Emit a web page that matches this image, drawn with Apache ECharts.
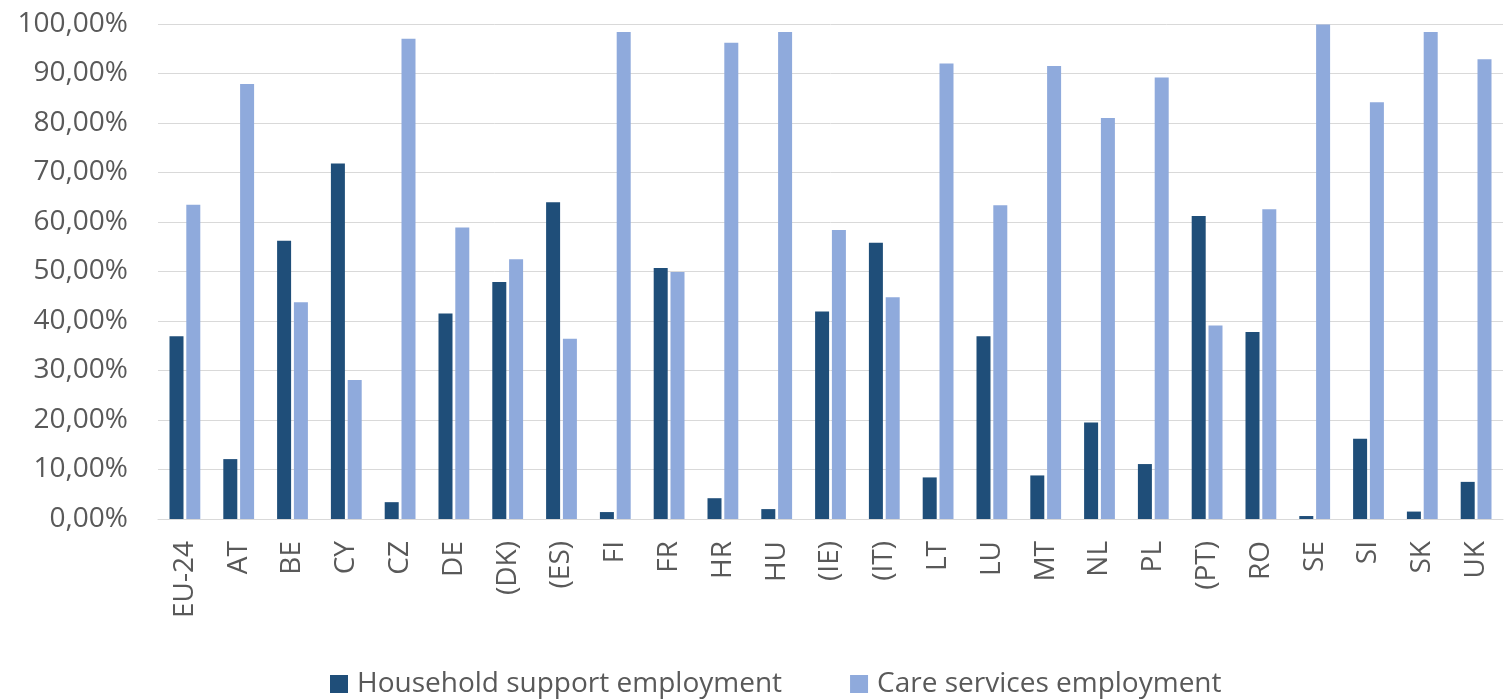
<!DOCTYPE html>
<html>
<head>
<meta charset="utf-8">
<script src="https://cdn.jsdelivr.net/npm/echarts@6/dist/echarts.min.js"></script>
<style>html,body{margin:0;padding:0;background:#fff}#c{width:1504px;height:699px}</style>
</head>
<body>
<div id="c"></div>
<script>
const categories = ['EU-24','AT','BE','CY','CZ','DE','(DK)','(ES)','FI','FR','HR','HU','(IE)','(IT)','LT','LU','MT','NL','PL','(PT)','RO','SE','SI','SK','UK'];
const householdSupport = [36.9,12.1,56.2,71.8,3.4,41.5,47.9,64.0,1.4,50.7,4.2,2.0,41.9,55.8,8.4,36.9,8.8,19.5,11.1,61.2,37.8,0.6,16.2,1.5,7.5];
const careServices = [63.5,87.9,43.8,28.1,97.0,58.9,52.5,36.4,98.4,49.9,96.2,98.4,58.4,44.8,92.0,63.4,91.5,81.0,89.2,39.1,62.6,99.9,84.2,98.4,92.9];
const seriesNames = ['Household support employment','Care services employment'];

const font = '"Open Sans", sans-serif';
const chart = echarts.init(document.getElementById('c'), null, {renderer:'canvas'});
chart.setOption({
  animation:false,
  textStyle:{fontFamily:font},
  grid:{left:158,right:1,top:24,bottom:180,containLabel:false},
  legend:{
    top:669,left:330,itemWidth:18,itemHeight:18,itemGap:68,padding:0,
    icon:'rect',
    textStyle:{fontFamily:font,fontSize:28,lineHeight:30,color:'#595959',padding:[0,0,0,4]},
    data:seriesNames
  },
  xAxis:{
    type:'category',data:categories,
    axisLine:{lineStyle:{color:'#d9d9d9',width:1}},
    axisTick:{show:false},
    axisLabel:{rotate:90,interval:0,fontFamily:font,fontSize:28,color:'#595959',margin:22}
  },
  yAxis:{
    type:'value',min:0,max:100,interval:10,
    axisLine:{show:false},axisTick:{show:false},
    splitLine:{lineStyle:{color:'#d9d9d9',width:1}},
    axisLabel:{fontFamily:font,fontSize:28,color:'#595959',margin:30,formatter:v=>v+',00%'}
  },
  series:[
    {name:seriesNames[0],type:'bar',data:householdSupport,barWidth:14,barGap:'20%',itemStyle:{color:'#1f4e79'}},
    {name:seriesNames[1],type:'bar',data:careServices,barWidth:14,itemStyle:{color:'#8faadc'}}
  ]
});
</script>
</body>
</html>
